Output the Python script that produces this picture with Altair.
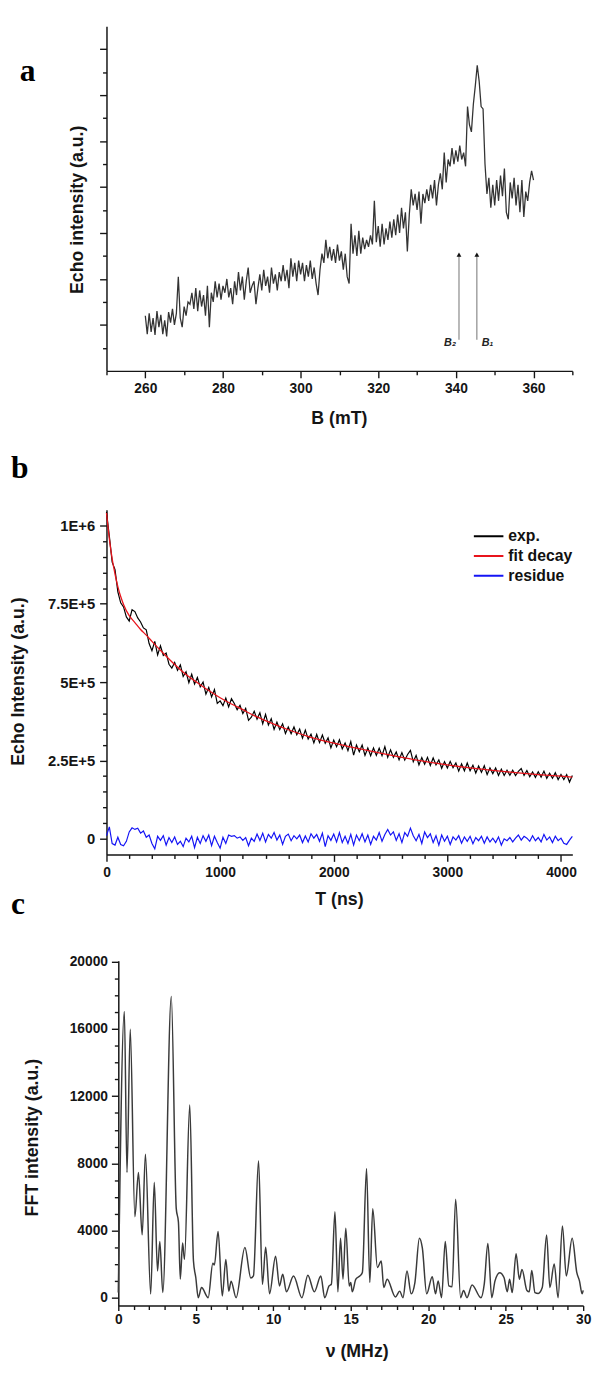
import altair as alt
import pandas as pd

SANS = "Liberation Sans"
SERIF = "Liberation Serif"
INK = "#151515"

# ---------------- panel a : field-swept echo ----------------
a_field = [260 + 0.5 * i for i in range(201)]
a_echo = [
    1.20, 0.80, 1.25, 0.85, 1.15, 0.78, 1.30, 0.95, 1.22, 0.80,
    1.10, 0.75, 1.28, 1.05, 1.35, 1.00, 1.25, 2.05, 1.15, 0.95,
    1.40, 1.20, 1.50, 1.45, 1.70, 1.35, 1.80, 1.30, 1.75, 1.40,
    1.65, 1.20, 1.85, 0.95, 1.70, 1.50, 1.95, 1.60, 1.90, 1.55,
    1.85, 1.70, 2.00, 1.60, 1.80, 1.45, 1.95, 1.65, 2.15, 1.75,
    2.05, 1.55, 1.95, 2.25, 1.70, 1.85, 1.95, 1.45, 1.80, 2.10,
    1.75, 2.20, 1.85, 2.05, 1.70, 2.25, 1.90, 2.10, 1.75, 2.15,
    1.95, 2.30, 1.95, 2.20, 1.80, 2.45, 2.05, 2.35, 1.95, 2.40,
    2.10, 2.35, 1.95, 2.30, 2.05, 2.40, 2.00, 2.25, 1.90, 1.65,
    2.20, 2.55, 2.35, 2.85, 2.45, 2.70, 2.40, 2.65, 2.35, 2.75,
    2.40, 2.60, 2.20, 2.55, 2.05, 1.90, 3.20, 2.55, 2.95, 2.50,
    3.05, 2.55, 2.90, 2.65, 2.85, 2.70, 2.95, 2.75, 3.70, 2.80,
    3.15, 2.70, 3.20, 2.75, 3.10, 2.85, 3.25, 2.90, 3.30, 2.95,
    3.40, 3.00, 3.55, 3.10, 3.45, 2.60, 3.40, 3.95, 3.60, 3.85,
    3.50, 3.90, 3.20, 3.85, 3.65, 3.95, 3.70, 4.05, 3.75, 4.15,
    3.60, 4.05, 4.30, 3.95, 4.75, 4.10, 4.60, 4.45, 4.85, 4.50,
    4.80, 4.55, 4.90, 4.60, 4.75, 4.45, 5.75, 5.35, 5.20, 5.80,
    6.20, 6.65, 6.30, 5.75, 5.70, 4.50, 3.85, 4.20, 3.55, 4.05,
    3.60, 4.15, 3.70, 4.25, 3.80, 4.40, 3.45, 3.30, 4.10, 3.75,
    4.20, 3.60, 4.05, 3.45, 4.15, 3.35, 3.90, 3.70, 4.10, 4.35,
    4.15,
]
a_arrow_field = [340.8, 345.4]
a_arrow_low = [0.68, 0.68]
a_arrow_high = [2.50, 2.50]
a_arrow_head = [2.53, 2.53]
a_arrow_text = ["B\u2082", "B\u2081"]
a_x_major = [260, 280, 300, 320, 340, 360]
a_x_minor = [250, 270, 290, 310, 330, 350, 370]
a_y_major = [1, 2, 3, 4, 5, 6, 7]
a_y_minor = [0.5, 1.5, 2.5, 3.5, 4.5, 5.5, 6.5]

# ---------------- panel b : echo decay (values in thousands) ----------------
b_time = list(range(0, 4101, 25))
b_exp = [
    1043, 966, 883, 859, 788, 753, 740, 708, 695, 731,
    725, 705, 692, 673, 667, 623, 600, 630, 587, 616,
    585, 593, 557, 545, 563, 538, 555, 518, 533, 498,
    525, 494, 515, 485, 500, 462, 483, 453, 476, 432,
    440, 425, 449, 421, 447, 432, 412, 426, 400, 416,
    378, 388, 407, 382, 402, 367, 397, 363, 383, 349,
    372, 349, 367, 336, 357, 335, 357, 332, 350, 321,
    347, 318, 334, 306, 333, 307, 331, 305, 322, 290,
    315, 294, 316, 287, 306, 281, 310, 267, 299, 278,
    299, 266, 290, 265, 290, 266, 289, 265, 294, 260,
    284, 260, 277, 252, 275, 251, 269, 282, 246, 266,
    236, 259, 238, 260, 234, 258, 236, 252, 225, 246,
    226, 247, 227, 242, 216, 239, 217, 242, 217, 235,
    210, 232, 212, 233, 205, 226, 208, 226, 202, 222,
    202, 219, 203, 219, 202, 215, 224, 202, 218, 198,
    213, 196, 214, 197, 216, 193, 209, 193, 211, 189,
    205, 189, 205, 181, 202,
]
b_res = [
    10, 38, -15, -20, 5, -18, -22, -8, 22, 35,
    30, 34, 18, 25, 5, 12, -15, -32, 8, -5,
    10, -20, 4, -12, 6, -18, -8, -25, 2, -10,
    8, -28, 5, -15, 10, -8, 12, -22, 8, -12,
    -30, 5, -15, 12, 8, 10, 2, 6, -5, 4,
    -22, 2, -8, 15, -5, 18, -10, 14, 2, 20,
    -4, 12, -18, 8, 15, -6, 10, 0, 12, -12,
    9, -10, 16, 2, 14, -8, 18, -25, 10, -5,
    15, -10, 20, -12, 8, -15, 14, -20, 12, -6,
    16, -10, 12, -18, 8, -4, 20, -8, 14, 30,
    12, 22, -5, 16, -12, 20, 8, 34, 10, -6,
    14, -15, 22, 4, 16, -12, 10, -20, 12, -8,
    8, -18, 6, -4, 10, -14, 6, -8, 8, -16,
    4, -6, 8, -14, 6, -10, 2, -12, 6, -20,
    0, -6, 4, -10, 2, 12, -4, 8, 2, -8,
    10, -6, 4, -10, 14, -4, 6, -12, 8, -6,
    2, -14, -18, -4, 8,
]
b_fit_time = [0, 25, 50, 75, 100, 125, 150, 200, 250, 300, 350, 400, 500, 600, 700,
              800, 900, 1000, 1100, 1200, 1300, 1400, 1500, 1600, 1800, 2000, 2200,
              2400, 2600, 2800, 3000, 3200, 3400, 3600, 3800, 4000, 4100]
b_fit = [1040, 958, 893, 845, 805, 773, 748, 712, 690, 668, 650, 630, 592, 556, 524,
         498, 473, 450, 430, 412, 393, 377, 362, 348, 324, 305, 289,
         274, 260, 247, 236, 226, 218, 211, 205, 200, 197]
b_series = ["exp.", "fit decay", "residue"]
b_colors = ["#000000", "#e8141c", "#1414f5"]
b_x_major = [0, 1000, 2000, 3000, 4000]
b_x_minor = [200, 400, 600, 800, 1200, 1400, 1600, 1800, 2200, 2400, 2600, 2800,
             3200, 3400, 3600, 3800]
b_y_major = [0, 250, 500, 750, 1000]
b_y_minor = [50, 100, 150, 200, 300, 350, 400, 450, 550, 600, 650, 700, 800, 850, 900, 950]

# ---------------- panel c : FFT spectrum ----------------
c_nu = [
    0.0, 0.39, 0.56, 0.77, 1.07, 1.30, 1.54, 1.75, 2.09, 2.32,
    2.53, 2.68, 2.87, 3.42, 3.74, 3.88, 4.00, 4.15, 4.27, 4.61,
    4.85, 5.00, 5.16, 5.37, 5.80, 6.10, 6.20, 6.44, 6.71, 6.94,
    7.13, 7.28, 7.60, 8.17, 8.55, 8.72, 9.05, 9.30, 9.51, 9.76,
    10.15, 10.40, 10.61, 10.85, 11.31, 11.85, 12.23, 12.65, 13.07, 13.32,
    13.60, 13.75, 13.98, 14.17, 14.34, 14.50, 14.68, 14.90, 15.00, 15.10,
    15.33, 15.60, 15.75, 16.02, 16.23, 16.42, 16.72, 16.97, 17.13, 17.35,
    17.88, 18.16, 18.37, 18.63, 18.90, 19.14, 19.43, 19.62, 19.90, 20.26,
    20.47, 20.64, 20.86, 21.10, 21.33, 21.54, 21.77, 22.09, 22.28, 22.50,
    22.83, 23.40, 23.62, 23.85, 24.10, 24.31, 24.61, 24.89, 25.10, 25.25,
    25.42, 25.67, 25.88, 26.05, 26.37, 26.52, 26.68, 26.89, 27.10, 27.36,
    27.64, 27.85, 28.13, 28.38, 28.66, 28.91, 29.29, 29.59, 29.76, 29.93,
    30.00,
]
c_fft = [
    300, 17050, 7460, 15980, 4820, 7460, 3740, 8540, 220, 6870,
    1590, 3350, 310, 17930, 5300, 4500, 1110, 3250, 2280, 11470,
    2180, 1200, 0, 600, 0, 2050, 1950, 3940, 100, 2270,
    390, 980, 0, 2990, 1170, 1300, 8150, 780, 3000, 230,
    2470, 700, 1390, 350, 1290, 0, 1330, 350, 1290, 0,
    700, 800, 5110, 350, 3540, 1100, 4130, 700, 900, 350,
    1100, 1300, 1500, 7700, 900, 5300, 1800, 2180, 600, 1100,
    40, 390, 0, 1590, 230, 900, 3540, 2960, 230, 1250,
    230, 1000, 0, 3350, 700, 650, 5860, 0, 430, 0,
    760, 0, 840, 3230, 0, 1000, 1490, 1200, 350, 1100,
    300, 2620, 1100, 1680, 430, 350, 1620, 300, 250, 600,
    3740, 600, 2010, 0, 4270, 1290, 3540, 1490, 1000, 230,
    430,
]
c_x_major = [0, 5, 10, 15, 20, 25, 30]
c_x_minor = [1, 2, 3, 4, 6, 7, 8, 9, 11, 12, 13, 14, 16, 17, 18, 19, 21, 22, 23, 24,
             26, 27, 28, 29]
c_y_major = [0, 4000, 8000, 12000, 16000, 20000]
c_y_minor = [1000, 2000, 3000, 5000, 6000, 7000, 9000, 10000, 11000, 13000, 14000,
             15000, 17000, 18000, 19000]


def minor_axis(orient, values, offset=None):
    kw = dict(values=values, labels=False, domain=False, ticks=True, tickSize=4,
              grid=False, title=None, orient=orient)
    if offset is not None:
        kw["offset"] = offset
    return alt.Axis(**kw)


def tag(letter, x, y):
    return alt.Chart(pd.DataFrame({"tag": [letter]})).mark_text(
        font=SERIF, fontSize=32, fontWeight="bold", align="left",
        baseline="alphabetic", color="#000000"
    ).encode(x=alt.value(x), y=alt.value(y), text="tag:N")


# ---------------- build panel a ----------------
a_df = pd.DataFrame({"B": a_field, "I": a_echo})
a_xs = alt.Scale(domain=[250, 370], nice=False, zero=False)
a_ys = alt.Scale(domain=[0, 7.5], nice=False, zero=False)

a_line = alt.Chart(a_df).mark_line(color="#333333", strokeWidth=1.3).encode(
    x=alt.X("B:Q", scale=a_xs, axis=alt.Axis(
        values=a_x_major, orient="bottom", tickSize=7, labelPadding=4,
        title="B (mT)", titleX=236, titleY=48, titleBaseline="middle")),
    y=alt.Y("I:Q", scale=a_ys, axis=alt.Axis(
        values=a_y_major, orient="left", labels=False, tickSize=7,
        title="Echo intensity (a.u.)", titleX=-29, titleY=186, titleBaseline="middle")),
)
a_arrow_df = pd.DataFrame({"B": a_arrow_field, "lo": a_arrow_low, "hi": a_arrow_high,
                           "head": a_arrow_head, "label": a_arrow_text})
a_rules = alt.Chart(a_arrow_df).mark_rule(color="#8a8a8a", strokeWidth=1.2).encode(
    x=alt.X("B:Q", scale=a_xs, axis=minor_axis("bottom", a_x_minor)),
    y=alt.Y("lo:Q", scale=a_ys, axis=minor_axis("left", a_y_minor)),
    y2="hi:Q",
)
a_heads = alt.Chart(a_arrow_df).mark_point(
    shape="triangle-up", filled=True, size=24, color="#111111", opacity=1
).encode(
    x=alt.X("B:Q", scale=a_xs, axis=None),
    y=alt.Y("head:Q", scale=a_ys, axis=None),
)
a_lab_base = alt.Chart(a_arrow_df).encode(
    x=alt.X("B:Q", scale=a_xs, axis=None),
    y=alt.Y("lo:Q", scale=a_ys, axis=None),
    text="label:N",
)
a_lab2 = a_lab_base.transform_filter(alt.datum.label == a_arrow_text[0]).mark_text(
    font=SANS, fontSize=11, fontWeight="bold", fontStyle="italic", align="right",
    baseline="middle", dx=-3, dy=3, color="#222222")
a_lab1 = a_lab_base.transform_filter(alt.datum.label == a_arrow_text[1]).mark_text(
    font=SANS, fontSize=11, fontWeight="bold", fontStyle="italic", align="left",
    baseline="middle", dx=5, dy=3, color="#222222")

panel_a = alt.layer(a_line, a_rules, a_heads, a_lab2, a_lab1, tag("a", -88, 56)).resolve_axis(
    x="independent", y="independent").properties(width=473, height=350)

# ---------------- build panel b ----------------
b_xs = alt.Scale(domain=[0, 4100], nice=False, zero=False)
b_ys = alt.Scale(domain=[-50, 1050], range=[383, 33], nice=False, zero=False)
b_cs = alt.Scale(domain=b_series, range=b_colors)

b_exp_df = pd.DataFrame({"T": b_time, "I": b_exp, "series": b_series[0]})
b_fit_df = pd.DataFrame({"T": b_fit_time, "I": b_fit, "series": b_series[1]})
b_res_df = pd.DataFrame({"T": b_time, "I": b_res, "series": b_series[2]})

b_label_expr = ("datum.value == 1000 ? '1E+6' : datum.value == 750 ? '7.5E+5' : "
                "datum.value == 500 ? '5E+5' : datum.value == 250 ? '2.5E+5' : '0'")

b_legend = alt.Legend(
    title=None, orient="none", legendX=372, legendY=52, symbolType="stroke",
    symbolSize=900, symbolStrokeWidth=2, labelFont=SANS, labelFontSize=16,
    labelFontWeight="bold", labelColor="#111111", rowPadding=4, labelOffset=4,
    clipHeight=16, padding=0)

b_exp_line = alt.Chart(b_exp_df).mark_line(strokeWidth=1.2).encode(
    x=alt.X("T:Q", scale=b_xs, axis=alt.Axis(
        values=b_x_major, orient="bottom", tickSize=7, labelPadding=4, format="d",
        title="T (ns)", titleX=236, titleY=46, titleBaseline="middle")),
    y=alt.Y("I:Q", scale=b_ys, axis=alt.Axis(
        values=b_y_major, orient="left", tickSize=7, labelPadding=5,
        labelExpr=b_label_expr, labelFontSize=15,
        title="Echo Intensity (a.u.)", titleX=-89, titleY=207, titleBaseline="middle")),
    color=alt.Color("series:N", scale=b_cs, legend=b_legend),
)
b_fit_line = alt.Chart(b_fit_df).mark_line(strokeWidth=1.3, interpolate="monotone").encode(
    x=alt.X("T:Q", scale=b_xs, axis=None),
    y=alt.Y("I:Q", scale=b_ys, axis=None),
    color=alt.Color("series:N", scale=b_cs, legend=b_legend),
)
b_res_line = alt.Chart(b_res_df).mark_line(strokeWidth=1.2).encode(
    x=alt.X("T:Q", scale=b_xs, axis=minor_axis("bottom", b_x_minor)),
    y=alt.Y("I:Q", scale=b_ys, axis=minor_axis("left", b_y_minor)),
    color=alt.Color("series:N", scale=b_cs, legend=b_legend),
)
panel_b = alt.layer(b_exp_line, b_fit_line, b_res_line, tag("b", -97, 1)).resolve_axis(
    x="independent", y="independent").properties(width=473, height=383)

# ---------------- build panel c ----------------
c_df = pd.DataFrame({"nu": c_nu, "F": c_fft})
c_xs = alt.Scale(domain=[0, 30], range=[12, 484], nice=False, zero=False)
c_ys = alt.Scale(domain=[-470, 20060], nice=False, zero=False)

c_line = alt.Chart(c_df).mark_line(color="#3a3a3a", strokeWidth=1.5, interpolate="monotone").encode(
    x=alt.X("nu:Q", scale=c_xs, axis=alt.Axis(
        values=c_x_major, orient="bottom", tickSize=5, labelPadding=2, format="d",
        title="\u03bd (MHz)", titleX=254, titleY=47, titleBaseline="middle")),
    y=alt.Y("F:Q", scale=c_ys, axis=alt.Axis(
        values=c_y_major, orient="left", tickSize=7, labelPadding=4, offset=-12, format="d",
        title="FFT intensity (a.u.)", titleX=-87, titleY=179, titleBaseline="middle")),
)
c_minor = alt.Chart(c_df).mark_line(opacity=0).encode(
    x=alt.X("nu:Q", scale=c_xs, axis=minor_axis("bottom", c_x_minor)),
    y=alt.Y("F:Q", scale=c_ys, axis=minor_axis("left", c_y_minor, offset=-12)),
)
panel_c = alt.layer(c_line, c_minor, tag("c", -97, -48)).resolve_axis(
    x="independent", y="independent").properties(width=484, height=350)

chart = alt.vconcat(panel_a, panel_b, panel_c, spacing=108, bounds="flush").resolve_legend(
    color="independent"
).properties(
    padding={"left": 2, "top": 8, "right": 4, "bottom": 0}
).configure_view(stroke=None).configure_axis(
    labelFont=SANS, titleFont=SANS, labelFontWeight="bold", titleFontWeight="bold",
    labelFontSize=14, titleFontSize=18, labelColor=INK, titleColor=INK,
    domainColor=INK, tickColor=INK, domainWidth=1.5, tickWidth=1.4, grid=False,
    labelFlush=False, labelOverlap=False, labelBound=False,
)

chart.save("out.html", embed_options={"renderer": "svg", "actions": False})
